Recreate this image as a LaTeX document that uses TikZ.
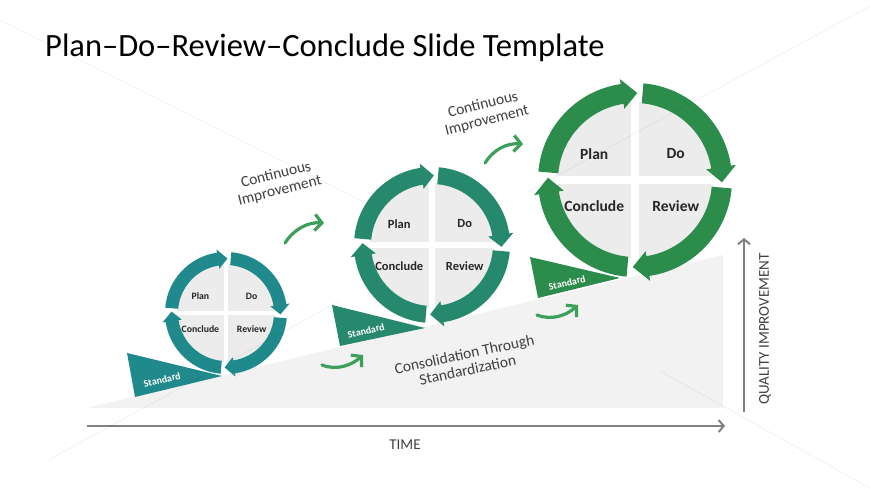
\documentclass[tikz,border=0pt]{standalone}
\usepackage{fontspec}
\setmainfont{Carlito}
\usetikzlibrary{arrows.meta}
\definecolor{pdrteal}{RGB}{31,137,139}
\definecolor{pdrsea}{RGB}{38,137,110}
\definecolor{pdrgreen}{RGB}{44,140,76}
\definecolor{swooshgreen}{RGB}{60,160,90}
\definecolor{quartergray}{RGB}{236,236,236}
\definecolor{slopegray}{RGB}{242,242,242}
\definecolor{axisgray}{RGB}{128,128,128}
\definecolor{textgray}{RGB}{64,64,64}
\tikzset{
    % Axis arrows and their captions
    axisline/.style={-{Straight Barb[length=5pt,width=12pt]}, line width=2pt, axisgray},
    axislabel/.style={font=\fontsize{15}{16}\selectfont, text=textgray, inner sep=0pt},
    % Curved improvement arrows
    swooshline/.style={-{Straight Barb[length=7pt,width=16pt]}, line width=3.2pt,
        line cap=round, swooshgreen},
    notetext/.style={font=\fontsize{15.5}{16}\selectfont, text=textgray,
        align=center, inner sep=0pt},
    % Labels on the cycles and wedges
    cyclelabel/.style={text=black!85, inner sep=0pt},
    stdlabel/.style={font=\fontsize{10}{12}\selectfont\bfseries, text=white,
        inner sep=0pt, rotate=14},
    faintline/.style={line width=0.7pt, black, opacity=0.06},
}
\tikzset{
    % One Plan-Do-Review-Conclude ring: outer radius, thickness, colour
    pics/pdrcycle/.style n args={3}{code={
        \pgfmathsetmacro\ro{#1}
        \pgfmathsetmacro\ri{#1-#2}
        \pgfmathsetmacro\rmid{#1-#2/2}
        \pgfmathsetmacro\rhout{#1+#2*0.25}
        \pgfmathsetmacro\rhin{#1-#2-#2*0.25}
        \pgfmathsetmacro\rgray{#1-#2+1}
        \pgfmathsetmacro\gw{#2*0.19}
        \pgfmathsetmacro\lx{#1*0.42}
        \pgfmathsetmacro\ly{#1*0.27}
        \pgfmathsetmacro\fs{#1*0.16}
        \fill[quartergray] (0,0) circle[radius=\rgray];
        \fill[white] (-\rgray,-\gw) rectangle (\rgray,\gw);
        \fill[white] (-\gw,-\rgray) rectangle (\gw,\rgray);
        \foreach \b in {180,90,0,-90}{
            \pgfmathsetmacro\sa{\b-5}
            \pgfmathsetmacro\ea{\b-91.5}
            \pgfmathsetmacro\ha{\ea+10}
            \fill[#3] (\sa:\ro) arc[start angle=\sa, end angle=\ha, radius=\ro]
                -- (\ha:\rhout) -- (\ea:\rmid) -- (\ha:\rhin) -- (\ha:\ri)
                arc[start angle=\ha, end angle=\sa, radius=\ri] -- cycle;
        }
        \node[cyclelabel, font=\fontsize{\fs}{\fs}\selectfont\bfseries] (-plan) at (-\lx,\ly) {Plan};
        \node[cyclelabel, font=\fontsize{\fs}{\fs}\selectfont\bfseries] (-do) at (\lx,\ly) {Do};
        \node[cyclelabel, font=\fontsize{\fs}{\fs}\selectfont\bfseries] (-conclude) at (-\lx,-\ly) {Conclude};
        \node[cyclelabel, font=\fontsize{\fs}{\fs}\selectfont\bfseries] (-review) at (\lx,-\ly) {Review};
    }},
}

\begin{document}
\begin{tikzpicture}[x=1pt, y=1pt]
    \useasboundingbox[fill=white] (0,0) rectangle (870,489);
    % rising quality area
    \fill[slopegray] (87,81) -- (723,234) -- (723,81) -- cycle;

    % title
    \node[anchor=base west, inner sep=0pt, font=\fontsize{32.5}{36}\selectfont] (title)
        at (45,432) {Plan–Do–Review–Conclude Slide Template};

    % axes
    \coordinate (t0) at (87,63);
    \coordinate (t1) at (725,63);
    \coordinate (q0) at (744,77);
    \coordinate (q1) at (744,251);
    \draw[axisline] (t0) -- (t1);
    \draw[axisline] (q0) -- (q1);
    \node[axislabel] (timelabel) at (405,44) {TIME};
    \node[axislabel, rotate=90] (qualitylabel) at (765,160) {QUALITY IMPROVEMENT};

    % standard wedges
    \fill[pdrteal] (127,136) -- (222,113) -- (135,92) -- cycle;
    \node[stdlabel] (std1) at (162,109) {Standard};
    \fill[pdrsea] (332,184) -- (425,161) -- (340,143) -- cycle;
    \node[stdlabel] (std2) at (366,158) {Standard};
    \fill[pdrgreen] (530,232) -- (620,211) -- (538,191) -- cycle;
    \node[stdlabel] (std3) at (567,206) {Standard};

    % cycles
    \pic (small) at (226,176) {pdrcycle={61}{13}{pdrteal}};
    \pic (medium) at (432,244) {pdrcycle={78}{17}{pdrsea}};
    \pic (large) at (635,309) {pdrcycle={97}{20}{pdrgreen}};

    % improvement arrows
    \coordinate (sw1a) at (285,246);  \coordinate (sw1b) at (324,266);
    \coordinate (sw2a) at (485,326);  \coordinate (sw2b) at (523,345);
    \coordinate (sw3a) at (322,124);  \coordinate (sw3b) at (363,134);
    \coordinate (sw4a) at (537,174);  \coordinate (sw4b) at (578,184);
    \draw[swooshline] (sw1a) .. controls +(9,14) and +(-16,1) .. (sw1b);
    \draw[swooshline] (sw2a) .. controls +(9,14) and +(-16,1) .. (sw2b);
    \draw[swooshline] (sw3a) .. controls +(15,-6) and +(-11,-10) .. (sw3b);
    \draw[swooshline] (sw4a) .. controls +(15,-6) and +(-11,-10) .. (sw4b);

    % captions
    \node[notetext, rotate=14] (improve1) at (278,306) {Continuous\\Improvement};
    \node[notetext, rotate=14] (improve2) at (485,376) {Continuous\\Improvement};
    \node[notetext, rotate=12] (consolidate) at (466,127) {Consolidation Through\\Standardization};

    % faint background strokes
    \draw[faintline] (0,469) -- (370,284);
    \draw[faintline] (525,296) -- (870,483);
    \draw[faintline] (50,30) -- (340,188);
    \draw[faintline] (660,118) -- (870,1);
\end{tikzpicture}
\end{document}
